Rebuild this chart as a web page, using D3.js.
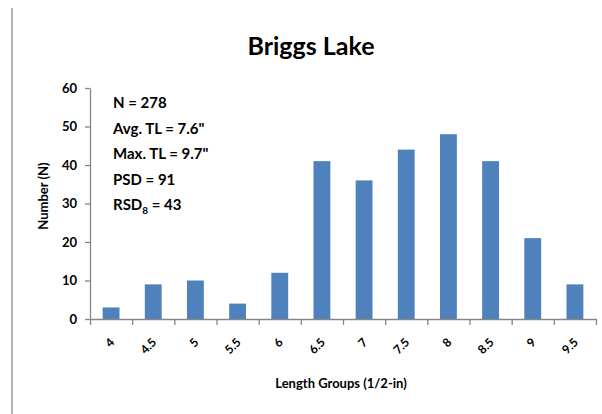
<!DOCTYPE html>
<html lang="en">
<head>
<meta charset="UTF-8">
<title>Briggs Lake</title>
<style>
  body { margin:0; background:#fff; }
  svg { display:block; }
  text { font-family: Lato, "Open Sans", sans-serif; font-weight:bold; fill:#000; }
</style>
</head>
<body>
<div class="chart"></div>
<script src="https://d3js.org/d3.v7.min.js"></script>
<script>
// length groups (1/2-in) and fish counts
const groups = ["4","4.5","5","5.5","6","6.5","7","7.5","8","8.5","9","9.5"];
const counts = [3, 9, 10, 4, 12, 41, 36, 44, 48, 41, 21, 9];
const yTicks = [0, 10, 20, 30, 40, 50, 60];
const stats = ["N = 278", "Avg. TL = 7.6\"", "Max. TL = 9.7\"", "PSD = 91"];

const width = 602, height = 414;
const plotL = 90, plotR = 596, plotT = 88, plotB = 319;

const svg = d3.select('.chart')
  .append('svg')
  .attr('width', width)
  .attr('height', height);

// grey border line on the left
svg.append('line')
  .attr('x1', 12).attr('x2', 12)
  .attr('y1', 8).attr('y2', height)
  .attr('stroke', '#b4b4b4')
  .attr('stroke-width', 2);

const x = d3.scaleBand()
  .domain(groups)
  .range([plotL, plotR])
  .paddingInner(0.6)
  .paddingOuter(0.3);

// band edges, for the tick marks between categories
const xEdge = d3.scaleLinear()
  .domain([0, groups.length])
  .range([plotL, plotR]);

const y = d3.scaleLinear()
  .domain([0, 60])
  .range([plotB, plotT]);

// bars
svg.append('g')
  .selectAll('rect')
  .data(counts)
  .join('rect')
  .attr('x', (d, i) => x(groups[i]))
  .attr('width', x.bandwidth())
  .attr('y', d => y(d))
  .attr('height', d => y(0) - y(d))
  .attr('fill', '#4f81bd');

// y axis
const yAxis = svg.append('g')
  .attr('transform', `translate(${plotL},0)`)
  .call(d3.axisLeft(y).tickValues(yTicks).tickSize(5).tickPadding(8).tickSizeOuter(0));
yAxis.select('.domain').attr('stroke', '#868686').attr('stroke-width', 1.3);
yAxis.selectAll('.tick line').attr('stroke', '#868686').attr('stroke-width', 1.3);
yAxis.selectAll('.tick text')
  .attr('font-size', 13)
  .style('font-family', 'Lato, sans-serif')
  .style('font-weight', 'bold')
  .attr('fill', '#000');

// x axis edge ticks
const xAxis = svg.append('g')
  .attr('transform', `translate(0,${plotB})`)
  .call(d3.axisBottom(xEdge).ticks(groups.length).tickSize(6).tickFormat('').tickSizeOuter(0));
xAxis.select('.domain').attr('stroke', '#868686').attr('stroke-width', 1.3);
xAxis.selectAll('.tick line').attr('stroke', '#868686').attr('stroke-width', 1.3);

// x category labels, rotated
const xLab = svg.append('g')
  .attr('transform', `translate(0,${plotB})`)
  .call(d3.axisBottom(x).tickSize(0).tickPadding(0));
xLab.select('.domain').remove();
xLab.selectAll('.tick text')
  .attr('font-size', 12)
  .style('font-family', 'Lato, sans-serif')
  .style('font-weight', 'bold')
  .attr('fill', '#000')
  .attr('text-anchor', 'end')
  .attr('dy', null)
  .attr('y', 0)
  .attr('transform', 'translate(4,24) rotate(-45)');

// title
svg.append('text')
  .attr('x', 311).attr('y', 55)
  .attr('text-anchor', 'middle')
  .attr('font-size', 25)
  .text('Briggs Lake');

// axis titles
svg.append('text')
  .attr('x', 341).attr('y', 388)
  .attr('text-anchor', 'middle')
  .attr('font-size', 13)
  .text('Length Groups (1/2-in)');

svg.append('text')
  .attr('transform', 'translate(48,196) rotate(-90)')
  .attr('text-anchor', 'middle')
  .attr('font-size', 13)
  .text('Number (N)');

// stats box
const box = svg.append('g').attr('font-size', 15);
box.selectAll('text.stat')
  .data(stats)
  .join('text')
  .attr('class', 'stat')
  .attr('x', 113)
  .attr('y', (d, i) => 108 + i * 25.5)
  .text(d => d);

const rsd = box.append('text')
  .attr('x', 113)
  .attr('y', 108 + 4 * 25.5);
rsd.append('tspan').text('RSD');
rsd.append('tspan').attr('font-size', 10).attr('dy', 4).text('8');
rsd.append('tspan').attr('dy', -4).text(' = 43');
</script>
</body>
</html>
